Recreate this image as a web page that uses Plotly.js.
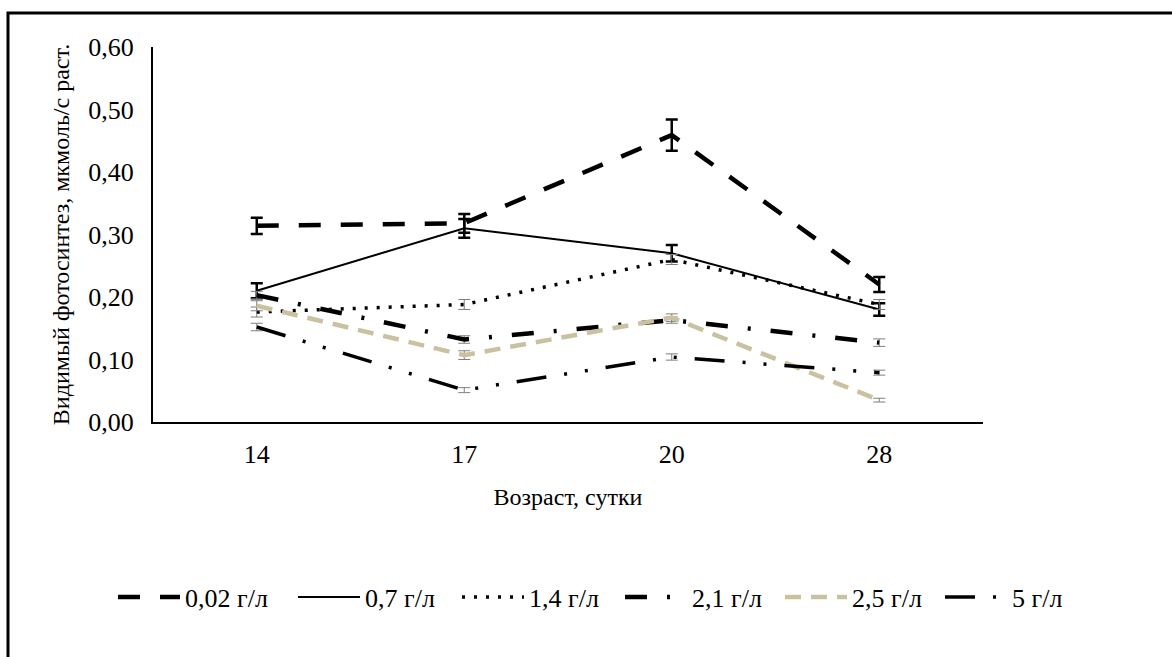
<!DOCTYPE html>
<html><head><meta charset="utf-8">
<script src="https://cdn.plot.ly/plotly-3.0.1.min.js"></script>
<style>html,body{margin:0;padding:0;background:#fff}#chart{width:1172px;height:657px}</style>
</head><body><div id="chart"></div>
<script>
const categories = ["14", "17", "20", "28"];
const seriesNames = ["0,02 г/л", "0,7 г/л", "1,4 г/л", "2,1 г/л", "2,5 г/л", "5 г/л"];
const v002 = [0.314, 0.318, 0.459, 0.220];
const v07  = [0.210, 0.310, 0.270, 0.180];
const v14  = [0.176, 0.188, 0.260, 0.188];
const v21  = [0.203, 0.132, 0.163, 0.127];
const v25  = [0.186, 0.107, 0.167, 0.035];
const v5   = [0.152, 0.051, 0.104, 0.079];
const e002 = [0.013, 0.015, 0.025, 0.012];
const e07  = [0.012, 0.015, 0.013, 0.010];
const e14  = [0.008, 0.008, 0.008, 0.008];
const e21  = [0.006, 0.006, 0.005, 0.006];
const e25  = [0.008, 0.007, 0.006, 0.003];
const e5   = [0.006, 0.004, 0.005, 0.004];

const values = [v002, v07, v14, v21, v25, v5];
const errors = [e002, e07, e14, e21, e25, e5];
const styles = [
  {color:"#000000", width:4.5, dash:"22px,20px", ebColor:"#000000", ebTh:2.5},
  {color:"#000000", width:2, dash:"solid", ebColor:"#000000", ebTh:2.5},
  {color:"#000000", width:3.5, dash:"3px,9px", ebColor:"#7f7f7f", ebTh:1},
  {color:"#000000", width:4.5, dash:"22px,20px,3px,20px", ebColor:"#7f7f7f", ebTh:1},
  {color:"#c9c1a0", width:4.5, dash:"16px,10px", ebColor:"#7f7f7f", ebTh:1},
  {color:"#000000", width:3.5, dash:"30px,18px,3px,18px,3px,18px", ebColor:"#7f7f7f", ebTh:1}
];
const legendIds = ["legend", "legend2", "legend3", "legend4", "legend5", "legend6"];
const legendLeftPx = [118, 298, 462, 625, 785, 945];

const traces = values.map((vals, i) => ({
  type: "scatter", mode: "lines",
  x: categories, y: vals, name: seriesNames[i], legend: legendIds[i],
  line: {color: styles[i].color, width: styles[i].width, dash: styles[i].dash},
  error_y: {type: "data", array: errors[i], visible: true, color: styles[i].ebColor, thickness: styles[i].ebTh, width: 6}
}));

const tickFont = {family: "Liberation Serif", size: 26, color: "#000"};
const titleFont = {family: "Liberation Serif", size: 24, color: "#000"};
const ML = 153, PW = 830, MT = 47, PH = 375;
const layout = {
  width: 1172, height: 657,
  margin: {l: ML, r: 1172 - ML - PW, t: MT, b: 657 - MT - PH},
  paper_bgcolor: "#fff", plot_bgcolor: "#fff",
  separators: ", ",
  font: tickFont,
  showlegend: true,
  xaxis: {type: "category", range: [-0.5, 3.5], showgrid: false, zeroline: false, showline: true, linecolor: "#000", linewidth: 2,
    ticks: "", ticklabelstandoff: 8, tickfont: tickFont,
    title: {text: "Возраст, сутки", font: titleFont, standoff: 20}},
  yaxis: {range: [0, 0.6], dtick: 0.1, tickformat: ".2f", showgrid: false, zeroline: false, showline: true,
    linecolor: "#000", linewidth: 2, ticks: "", ticklabelstandoff: 12, tickfont: tickFont,
    title: {text: "Видимый фотосинтез, мкмоль/с раст.", font: titleFont, standoff: 12}},
  shapes: [{type: "rect", xref: "paper", yref: "paper", x0: (8-ML)/PW, x1: 1.4, y0: -0.8, y1: 1 + (MT-13)/PH,
    line: {color: "#000", width: 3}, fillcolor: "rgba(0,0,0,0)", layer: "below"}]
};
legendIds.forEach((id, i) => {
  layout[id] = {orientation: "h", x: (legendLeftPx[i] - 5 - ML)/PW, xanchor: "left", y: (MT + PH - 597)/PH, yanchor: "middle",
    itemwidth: 62, font: tickFont, bgcolor: "rgba(0,0,0,0)"};
});
Plotly.newPlot("chart", traces, layout, {displayModeBar: false, staticPlot: true});
</script></body></html>
